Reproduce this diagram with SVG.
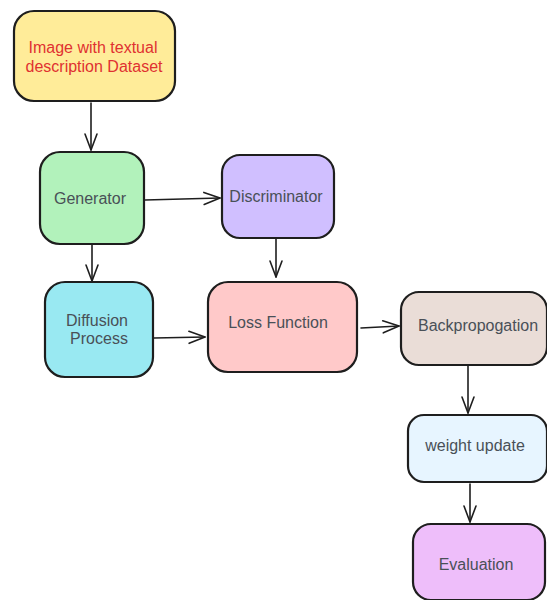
<svg xmlns="http://www.w3.org/2000/svg" width="547" height="600" viewBox="0 0 547 600">
<defs>
<style>
.box{stroke:#1e1e1e;stroke-width:2.2;stroke-linejoin:round}
.t{font-family:"Liberation Sans",Arial,sans-serif;font-size:16px;fill:#495057;text-anchor:middle}
.c{fill:none;stroke:#1e1e1e;stroke-width:1.6;stroke-linecap:round}
</style>
<marker id="ah" viewBox="0 0 20 20" refX="18" refY="10" markerWidth="20" markerHeight="20" markerUnits="userSpaceOnUse" orient="auto">
<path d="M2,4 L18,10 L2,16" fill="none" stroke="#1e1e1e" stroke-width="1.6" stroke-linecap="round" stroke-linejoin="round"/>
</marker>
</defs>
<rect width="547" height="600" fill="#ffffff"/>
<g id="connectors">
<path class="c" d="M91,103 L91,150" marker-end="url(#ah)"/>
<path class="c" d="M145,200 L220,198" marker-end="url(#ah)"/>
<path class="c" d="M92,245 L92,281" marker-end="url(#ah)"/>
<path class="c" d="M276,239 L276,277" marker-end="url(#ah)"/>
<path class="c" d="M154,338 L205,337" marker-end="url(#ah)"/>
<path class="c" d="M361,328 L399,326" marker-end="url(#ah)"/>
<path class="c" d="M468,366 L468,413" marker-end="url(#ah)"/>
<path class="c" d="M470,484 L470,522" marker-end="url(#ah)"/>
</g>
<g id="dataset">
<rect class="box" x="14" y="11" width="161" height="90" rx="20" fill="#ffec99"/>
<text class="t" x="93" y="53" style="fill:#e03131">Image with textual</text>
<text class="t" x="94" y="72" style="fill:#e03131">description Dataset</text>
</g>
<g id="generator">
<rect class="box" x="40" y="152" width="104" height="92" rx="20" fill="#b2f2bb"/>
<text class="t" x="90" y="204">Generator</text>
</g>
<g id="discriminator">
<rect class="box" x="222" y="155" width="112" height="83" rx="18" fill="#d0bfff"/>
<text class="t" x="276" y="202">Discriminator</text>
</g>
<g id="diffusion">
<rect class="box" x="45" y="282" width="108" height="95" rx="20" fill="#99e9f2"/>
<text class="t" x="97" y="326">Diffusion</text>
<text class="t" x="99" y="344">Process</text>
</g>
<g id="loss">
<rect class="box" x="208" y="282" width="149" height="90" rx="20" fill="#ffc9c9"/>
<text class="t" x="278" y="328">Loss Function</text>
</g>
<g id="backprop">
<rect class="box" x="401" y="292" width="146" height="73" rx="18" fill="#eaddd7"/>
<text class="t" x="478" y="331">Backpropogation</text>
</g>
<g id="weight">
<rect class="box" x="408" y="415" width="139" height="67" rx="16" fill="#e7f5ff"/>
<text class="t" x="475" y="451">weight update</text>
</g>
<g id="evaluation">
<rect class="box" x="413" y="524" width="132" height="76" rx="18" fill="#eebefa"/>
<text class="t" x="476" y="570">Evaluation</text>
</g>
</svg>
